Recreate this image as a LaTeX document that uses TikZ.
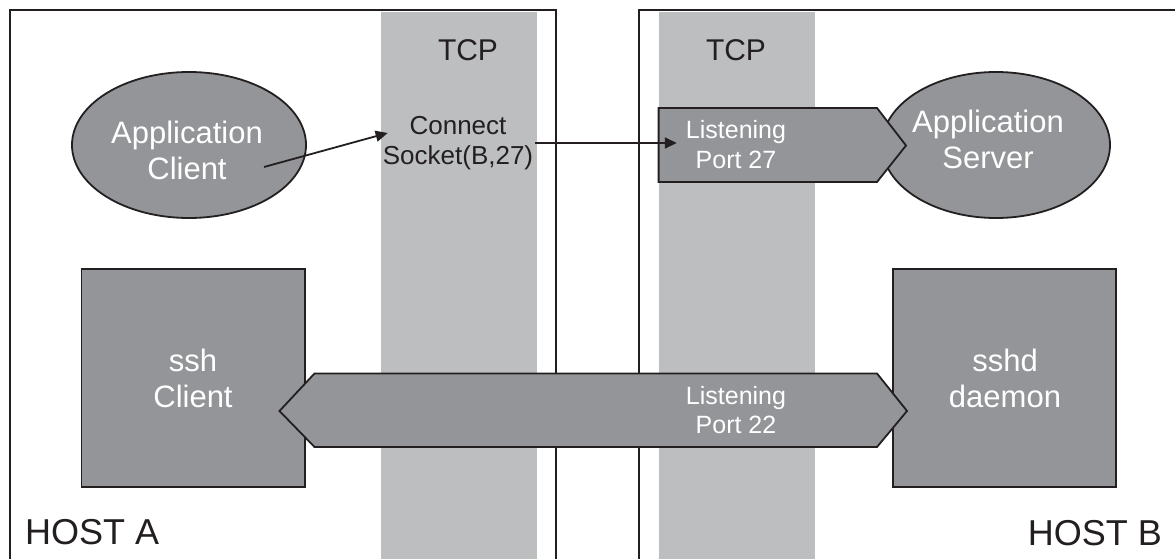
\documentclass[tikz,border=0pt]{standalone}
\usepackage{fontspec}
\setmainfont{Liberation Sans}
\usetikzlibrary{arrows.meta,shapes.geometric}
\definecolor{dk}{HTML}{939598}
\definecolor{lt}{HTML}{BCBEC0}
\definecolor{ink}{HTML}{231F20}
\begin{document}
\begin{tikzpicture}[x=1pt,y=-1pt,
  border/.style={draw=ink,line width=1.8pt},
  stripbox/.style={fill=lt},
  proc/.style={draw=ink,line width=1.8pt,fill=dk,inner sep=0pt},
  wlbl/.style={text=white,align=center,font=\fontsize{31}{36}\selectfont,inner sep=0pt},
  plbl/.style={text=white,align=center,font=\fontsize{25}{29.5}\selectfont,inner sep=2pt},
  blbl/.style={text=ink,align=center,font=\fontsize{26}{30}\selectfont,inner sep=2pt},
  tlbl/.style={text=ink,font=\fontsize{30}{36}\selectfont,inner sep=0pt},
  hlbl/.style={text=ink,font=\fontsize{36}{40}\selectfont,inner sep=0pt},
  arr/.style={draw=ink,line width=1.8pt,-{Triangle[length=12pt,width=11pt]}},
]
\useasboundingbox (0,0) rectangle (1175,559);
\fill[white] (0,0) rectangle (1175,559);
% TCP strips
\path[stripbox] (381,12) rectangle (537,559);
\path[stripbox] (659,12) rectangle (815,559);
% host borders
\draw[border] (10,559) -- (10,10) -- (556,10) -- (556,559);
\draw[border] (639,559) -- (639,10) -- (1175,10);
% processes
\node[proc,ellipse,minimum width=234pt,minimum height=146pt] (appC) at (189,145) {};
\node[proc,ellipse,minimum width=228pt,minimum height=146pt] (appS) at (996,145) {};
\node[proc,rectangle,minimum width=223.5pt,minimum height=218pt] (ssh) at (193.25,378) {};
\node[proc,rectangle,minimum width=223pt,minimum height=218pt] (sshd) at (1004.5,378) {};
% ports
\draw[proc,line join=miter] (658.6,108) -- (877,108) -- (906,145.5) -- (877,182) -- (658.6,182) -- cycle;
\draw[proc,line join=miter] (279.5,411) -- (314.5,373.5) -- (877,373.5) -- (907,411) -- (877,447) -- (314.5,447) -- cycle;
% labels
\node[tlbl] (tcpA) at (468,50) {TCP};
\node[tlbl] (tcpB) at (736,50) {TCP};
\node[blbl] (sock) at (458,143) {Connect\\Socket(B,27)};
\node[wlbl] (appCt) at (187,150) {Application\\Client};
\node[wlbl] (appSt) at (988,139.5) {Application\\Server};
\node[plbl] (p27t) at (736,144.5) {Listening\\Port 27};
\node[plbl] (p22t) at (736,410) {Listening\\Port 22};
\node[wlbl] (sshT) at (193,378.5) {ssh\\Client};
\node[wlbl] (sshdT) at (1005,378.5) {sshd\\daemon};
\node[hlbl,anchor=west] (hostA) at (25,532) {HOST A};
\node[hlbl,anchor=east] (hostB) at (1162,533) {HOST B};
% connectors
\coordinate (cs) at (264,167);
\draw[arr] (cs) -- ([xshift=7pt,yshift=10pt]sock.west);
\draw[arr] (sock.east) -- ([xshift=-7pt]p27t.west |- sock.east);
\end{tikzpicture}
\end{document}
